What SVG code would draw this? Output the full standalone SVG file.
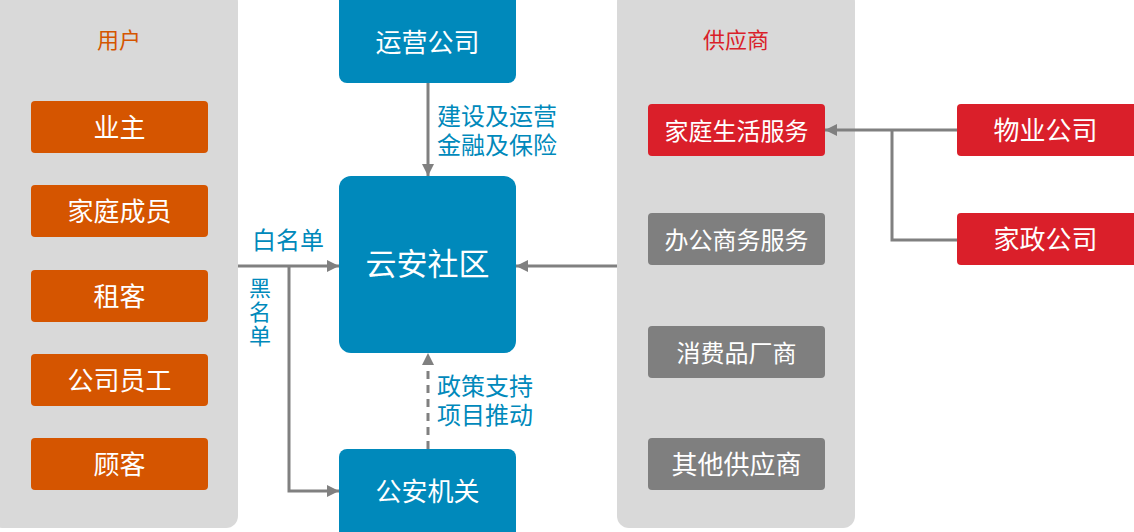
<svg xmlns="http://www.w3.org/2000/svg" width="1134" height="532" viewBox="0 0 1134 532">
<defs>
<style>
.panel{fill:#D9D9D9}
.blue{fill:#0089BB}
.org{fill:#D55500}
.red{fill:#DA1F2A}
.gray{fill:#7F7F7F}
text{font-family:"Liberation Sans","Noto Sans CJK SC",sans-serif;dominant-baseline:central}
.t{fill:#FFFFFF;font-size:26px;text-anchor:middle}
.s{font-size:24px}
.big{font-size:31px}
.lbl{fill:#0089BB;font-size:24px}
.v{font-size:22px}
.ttl{font-size:22px;text-anchor:middle}
.ln{fill:none;stroke:#808080;stroke-width:3}
</style>
<marker id="ah" viewBox="0 0 12 12" refX="12" refY="6" markerWidth="12" markerHeight="12" markerUnits="userSpaceOnUse" orient="auto">
<path d="M0,0 L12,6 L0,12 Z" fill="#808080"/>
</marker>
</defs>
<g id="panel-users">
<rect class="panel" x="-10" y="-10" width="248" height="538" rx="12"/>
<text class="ttl" x="119" y="40" fill="#D55500">用户</text>
</g>
<g id="panel-suppliers">
<rect class="panel" x="617" y="-10" width="238" height="538" rx="12"/>
<text class="ttl" x="736" y="40" fill="#DA1F2A">供应商</text>
</g>
<g id="connectors">
<line class="ln" x1="428" y1="83" x2="428" y2="176" marker-end="url(#ah)"/>
<line class="ln" x1="428" y1="449" x2="428" y2="353" stroke-dasharray="8,6" marker-end="url(#ah)"/>
<line class="ln" x1="238" y1="266" x2="339" y2="266" marker-end="url(#ah)"/>
<polyline class="ln" points="289,266 289,491 339,491" marker-end="url(#ah)"/>
<line class="ln" x1="617" y1="266" x2="516" y2="266" marker-end="url(#ah)"/>
<line class="ln" x1="957" y1="130" x2="825" y2="130" marker-end="url(#ah)"/>
<polyline class="ln" points="892,130 892,240 957,240"/>
<text class="lbl" x="437" y="116">建设及运营</text>
<text class="lbl" x="437" y="145">金融及保险</text>
<text class="lbl" x="437" y="386">政策支持</text>
<text class="lbl" x="437" y="415">项目推动</text>
<text class="lbl" x="252" y="240">白名单</text>
<text class="lbl v" x="249" y="288">黑</text>
<text class="lbl v" x="249" y="312">名</text>
<text class="lbl v" x="249" y="336">单</text>
</g>
<g id="n-owner"><rect class="org" x="31" y="101" width="177" height="52" rx="4"/><text class="t" x="119.5" y="128">业主</text></g>
<g id="n-family"><rect class="org" x="31" y="185" width="177" height="52" rx="4"/><text class="t" x="119.5" y="212">家庭成员</text></g>
<g id="n-tenant"><rect class="org" x="31" y="270" width="177" height="52" rx="4"/><text class="t" x="119.5" y="297">租客</text></g>
<g id="n-staff"><rect class="org" x="31" y="354" width="177" height="52" rx="4"/><text class="t" x="119.5" y="381">公司员工</text></g>
<g id="n-customer"><rect class="org" x="31" y="438" width="177" height="52" rx="4"/><text class="t" x="119.5" y="465">顾客</text></g>
<g id="n-operator"><rect class="blue" x="339" y="-10" width="177" height="93" rx="8"/><text class="t" x="427.5" y="43">运营公司</text></g>
<g id="n-community"><rect class="blue" x="339" y="176" width="177" height="177" rx="12"/><text class="t big" x="427.5" y="264">云安社区</text></g>
<g id="n-police"><rect class="blue" x="339" y="449" width="177" height="93" rx="8"/><text class="t" x="427.5" y="492">公安机关</text></g>
<g id="n-home"><rect class="red" x="648" y="104" width="177" height="52" rx="4"/><text class="t s" x="736.5" y="131">家庭生活服务</text></g>
<g id="n-office"><rect class="gray" x="648" y="213" width="177" height="52" rx="4"/><text class="t s" x="736.5" y="240">办公商务服务</text></g>
<g id="n-consumer"><rect class="gray" x="648" y="326" width="177" height="52" rx="4"/><text class="t s" x="736.5" y="353">消费品厂商</text></g>
<g id="n-other"><rect class="gray" x="648" y="438" width="177" height="52" rx="4"/><text class="t" x="736.5" y="465">其他供应商</text></g>
<g id="n-property"><rect class="red" x="957" y="104" width="187" height="52" rx="4"/><text class="t" x="1045.5" y="131">物业公司</text></g>
<g id="n-housekeeping"><rect class="red" x="957" y="213" width="187" height="52" rx="4"/><text class="t" x="1045.5" y="240">家政公司</text></g>
</svg>
